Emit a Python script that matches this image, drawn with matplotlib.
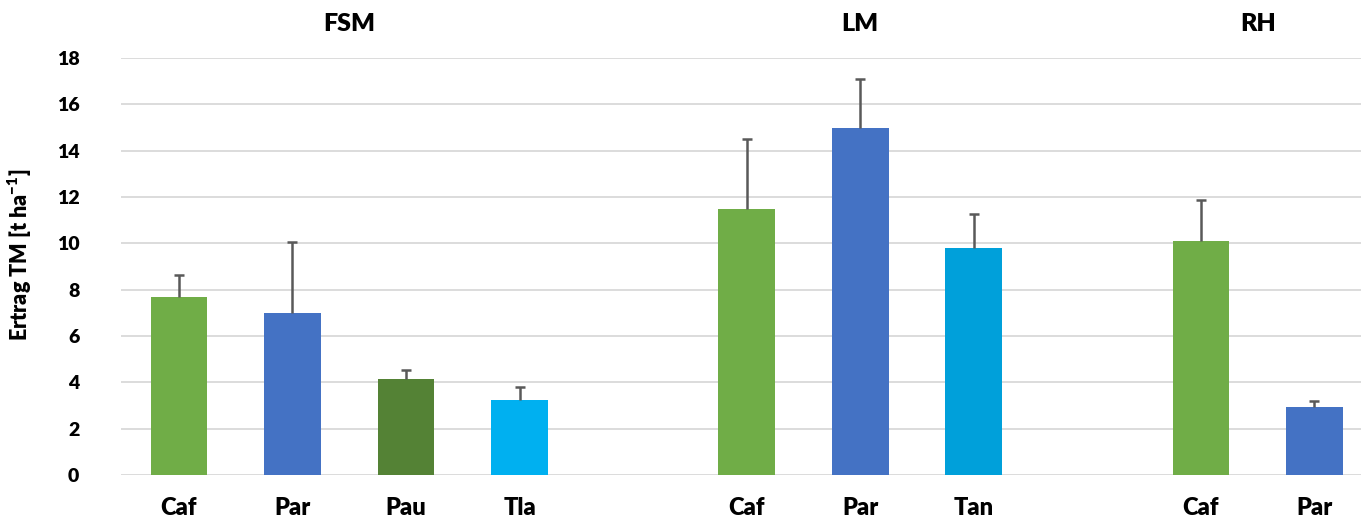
import matplotlib
matplotlib.use("Agg")
import matplotlib.pyplot as plt

# Yield data (dry matter, t/ha) per site and species
sites = ["FSM", "LM", "RH"]
species = [["Caf", "Par", "Pau", "Tla"], ["Caf", "Par", "Tan"], ["Caf", "Par"]]
means = [[7.7, 7.0, 4.15, 3.25], [11.5, 15.0, 9.78], [10.1, 2.95]]
errors = [[0.95, 3.05, 0.4, 0.55], [3.0, 2.1, 1.5], [1.78, 0.25]]
colors = [["#70AD47", "#4472C4", "#548235", "#00B0F0"],
          ["#70AD47", "#4472C4", "#00A0DA"],
          ["#70AD47", "#4472C4"]]
y_ticks = [0, 2, 4, 6, 8, 10, 12, 14, 16, 18]

plt.rcParams["font.family"] = ["Lato", "DejaVu Sans"]
plt.rcParams["mathtext.fontset"] = "custom"
plt.rcParams["mathtext.bf"] = "Lato:heavy"
plt.rcParams["mathtext.rm"] = "Lato:heavy"

fig = plt.figure(figsize=(13.61, 5.2), dpi=100)
ax = fig.add_axes([121 / 1361, 45 / 520, 1 - 121 / 1361, (475 - 58) / 520])

pos = 0
xs, labels = [], []
group_centers = []
for s, names, vals, errs, cols in zip(sites, species, means, errors, colors):
    gx = []
    for n, v, e, c in zip(names, vals, errs, cols):
        ax.bar(pos, v, width=0.5, color=c, zorder=2)
        eb = ax.errorbar(pos, v, yerr=[[0], [e]], fmt="none", ecolor="#595959",
                         elinewidth=1.8, capsize=3.5, capthick=1.8, zorder=3)
        # keep only the upper cap
        caps = eb.lines[1]
        if len(caps) > 1:
            caps[0].set_visible(False)
        xs.append(pos)
        labels.append(n)
        gx.append(pos)
        pos += 1
    group_centers.append((s, sum(gx) / len(gx)))
    pos += 1

ax.set_xlim(-0.51, 10.41)
ax.set_ylim(0, 18)
ax.set_yticks(y_ticks)
ax.set_yticklabels([str(t) for t in y_ticks], fontsize=14, fontweight="heavy")
ax.set_xticks(xs)
ax.set_xticklabels(labels, fontsize=17, fontweight="heavy")
ax.tick_params(axis="both", length=0)
ax.tick_params(axis="x", pad=16)
ax.tick_params(axis="y", pad=30)
ax.yaxis.grid(True, color="#D9D9D9", linewidth=1.3, zorder=0)
ax.set_axisbelow(True)
for sp in ax.spines.values():
    sp.set_visible(False)

fig.text(20 / 1361, (520 - 255) / 520,
         "Ertrag TM [t ha$^{-1}$]", rotation=90, ha="center", va="center",
         fontsize=15.5, fontweight="heavy")

for name, cx in group_centers:
    ax.text(cx, 19.47, name, ha="center", va="center", fontsize=18,
            fontweight="heavy", clip_on=False)

fig.savefig("out.png", dpi=100)
